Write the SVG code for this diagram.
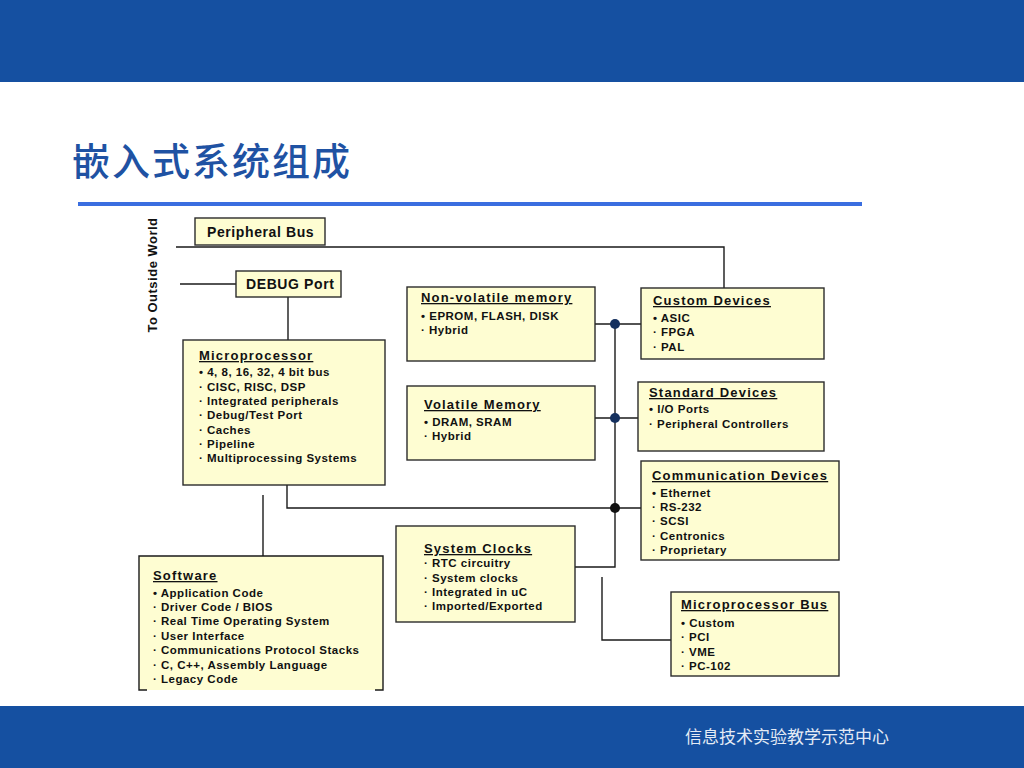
<svg xmlns="http://www.w3.org/2000/svg" width="1024" height="768" viewBox="0 0 1024 768">
<style>
.box{fill:#fefdd2;stroke:#2b2b2b;stroke-width:1.4}
.ln{fill:none;stroke:#1a1a1a;stroke-width:1.4}
.t{font-family:"Liberation Sans",Arial,sans-serif;font-weight:bold;fill:#111}
.h{font-size:13px;letter-spacing:1.2px;text-decoration:underline}
.i{font-size:11.5px;letter-spacing:0.5px}
.big{font-size:14px;letter-spacing:0.6px}
</style>
<rect x="0" y="0" width="1024" height="82" fill="#1550a1"/>
<rect x="0" y="706" width="1024" height="62" fill="#1550a1"/>
<text x="72" y="175" font-family="'Noto Sans CJK SC',sans-serif" font-size="38" font-weight="500" letter-spacing="2" fill="#1f52a3">嵌入式系统组成</text>
<rect x="78" y="202" width="784" height="4" fill="#3a6ee0"/>
<text x="889" y="743" text-anchor="end" font-family="'Noto Sans CJK SC',sans-serif" font-size="17" fill="#e4ebf5">信息技术实验教学示范中心</text>

<text class="t" transform="translate(157,275) rotate(-90)" text-anchor="middle" font-size="13" letter-spacing="0.5">To Outside World</text>

<g id="connectors">
<path class="ln" d="M176,247 H724 V288"/>
<path class="ln" d="M180,284 H236"/>
<path class="ln" d="M288,297 V340"/>
<path class="ln" d="M287,485 V508 H641"/>
<path class="ln" d="M615,324 V567 H575"/>
<path class="ln" d="M593,324 H641"/>
<path class="ln" d="M595,418 H638"/>
<path class="ln" d="M263,495 V556"/>
<path class="ln" d="M602,577 V640 H671"/>
<circle cx="615" cy="324" r="5" fill="#15305e"/>
<circle cx="615" cy="418" r="5" fill="#15305e"/>
<circle cx="615" cy="508" r="5" fill="#111"/>
</g>

<g id="peripheral-bus">
<rect class="box" x="195" y="218" width="130" height="27"/>
<text class="t big" x="207" y="237">Peripheral Bus</text>
</g>
<g id="debug-port">
<rect class="box" x="236" y="271" width="105" height="26"/>
<text class="t big" x="246" y="289">DEBUG Port</text>
</g>
<g id="microprocessor">
<rect class="box" x="183" y="340" width="202" height="145"/>
<text class="t h" x="199" y="360">Microprocessor</text>
<text class="t i" x="199" y="376">•  4, 8, 16, 32, 4 bit bus</text>
<text class="t i" x="199" y="391">· CISC, RISC, DSP</text>
<text class="t i" x="199" y="405">· Integrated peripherals</text>
<text class="t i" x="199" y="419">· Debug/Test Port</text>
<text class="t i" x="199" y="434">· Caches</text>
<text class="t i" x="199" y="448">· Pipeline</text>
<text class="t i" x="199" y="462">· Multiprocessing Systems</text>
</g>
<g id="non-volatile-memory">
<rect class="box" x="407" y="287" width="188" height="74"/>
<text class="t h" x="421" y="302">Non-volatile memory</text>
<text class="t i" x="421" y="320">•  EPROM, FLASH, DISK</text>
<text class="t i" x="421" y="334">· Hybrid</text>
</g>
<g id="volatile-memory">
<rect class="box" x="407" y="386" width="188" height="74"/>
<text class="t h" x="424" y="409">Volatile Memory</text>
<text class="t i" x="424" y="426">•  DRAM, SRAM</text>
<text class="t i" x="424" y="440">· Hybrid</text>
</g>
<g id="custom-devices">
<rect class="box" x="641" y="288" width="183" height="71"/>
<text class="t h" x="653" y="305">Custom Devices</text>
<text class="t i" x="653" y="322">•  ASIC</text>
<text class="t i" x="653" y="336">· FPGA</text>
<text class="t i" x="653" y="351">· PAL</text>
</g>
<g id="standard-devices">
<rect class="box" x="638" y="382" width="186" height="69"/>
<text class="t h" x="649" y="397">Standard Devices</text>
<text class="t i" x="649" y="413">•  I/O Ports</text>
<text class="t i" x="649" y="428">· Peripheral Controllers</text>
</g>
<g id="communication-devices">
<rect class="box" x="641" y="461" width="198" height="99"/>
<text class="t h" x="652" y="480">Communication Devices</text>
<text class="t i" x="652" y="497">•  Ethernet</text>
<text class="t i" x="652" y="511">· RS-232</text>
<text class="t i" x="652" y="525">· SCSI</text>
<text class="t i" x="652" y="540">· Centronics</text>
<text class="t i" x="652" y="554">· Proprietary</text>
</g>
<g id="microprocessor-bus">
<rect class="box" x="671" y="592" width="168" height="84"/>
<text class="t h" x="681" y="609">Microprocessor Bus</text>
<text class="t i" x="681" y="627">•  Custom</text>
<text class="t i" x="681" y="641">· PCI</text>
<text class="t i" x="681" y="656">· VME</text>
<text class="t i" x="681" y="670">· PC-102</text>
</g>
<g id="software">
<rect x="139" y="556" width="244" height="134" fill="#fefdd2"/>
<path class="ln" d="M147,690 H139 V556 H383 V690 H375"/>
<text class="t h" x="153" y="580">Software</text>
<text class="t i" x="153" y="597">•  Application Code</text>
<text class="t i" x="153" y="611">· Driver Code / BIOS</text>
<text class="t i" x="153" y="625">· Real Time Operating System</text>
<text class="t i" x="153" y="640">· User Interface</text>
<text class="t i" x="153" y="654">· Communications Protocol Stacks</text>
<text class="t i" x="153" y="669">· C, C++, Assembly Language</text>
<text class="t i" x="153" y="683">· Legacy Code</text>
</g>
<g id="system-clocks">
<rect class="box" x="396" y="526" width="179" height="96"/>
<text class="t h" x="424" y="553">System Clocks</text>
<text class="t i" x="424" y="567">· RTC circuitry</text>
<text class="t i" x="424" y="582">· System clocks</text>
<text class="t i" x="424" y="596">· Integrated in uC</text>
<text class="t i" x="424" y="610">· Imported/Exported</text>
</g>
</svg>
